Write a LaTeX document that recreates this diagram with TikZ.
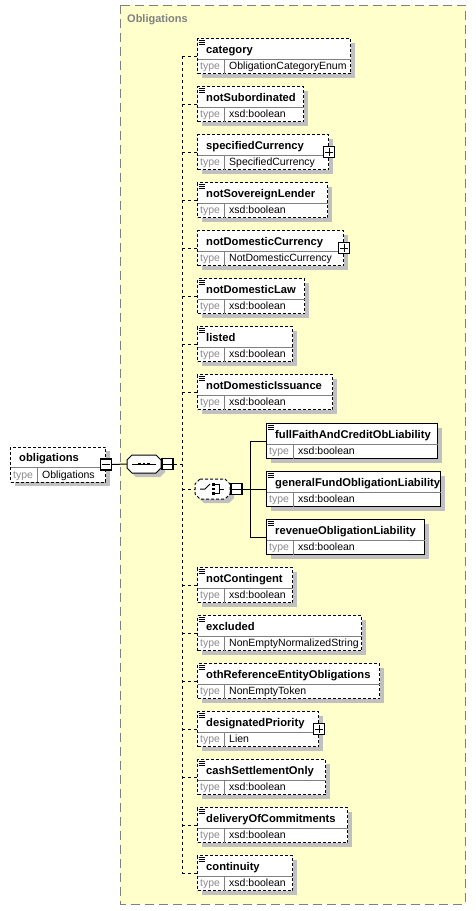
\documentclass[tikz,border=0pt]{standalone}
\usepackage{fontspec}
\setmainfont{Liberation Sans}
\usetikzlibrary{shadows}
\definecolor{grpfill}{RGB}{255,255,204}
\definecolor{grpline}{RGB}{128,128,128}
\definecolor{shadowc}{RGB}{192,192,192}
\definecolor{typegray}{RGB}{140,140,140}
\definecolor{divgray}{RGB}{128,128,128}
\tikzset{
 ebox/.style={draw=black, fill=white, line width=1pt, minimum height=35, inner sep=0,
   drop shadow={shadow xshift=4pt, shadow yshift=-4pt, fill=shadowc, opacity=1}},
 optb/.style={dash pattern=on 3pt off 2pt},
 reqb/.style={solid},
 divc/.style={draw=divgray, line width=1pt},
 namef/.style={anchor=base west, inner sep=0, font=\fontsize{11.2}{13}\selectfont\bfseries},
 typef/.style={anchor=base west, inner sep=0, text=typegray, font=\fontsize{10.5}{12}\selectfont},
 valf/.style={anchor=base west, inner sep=0, font=\fontsize{10.5}{12}\selectfont},
 dline/.style={line width=1pt, dash pattern=on 3pt off 3pt},
 sline/.style={line width=1pt},
 togbox/.style={draw=black, fill=white, line width=1.2pt, minimum size=11, inner sep=0},
}
\newcommand\elem[8]{%
 \node[ebox,#7,minimum width=#4,anchor=north west] (#1) at (#2,#3) {};
 \draw[divc] ([xshift=0.5pt,yshift=-21pt]#1.north west) -- ([xshift=-0.5pt,yshift=-21pt]#1.north east);
 \draw[divc] ([xshift=27pt,yshift=-21pt]#1.north west) -- ([xshift=27pt,yshift=0.5pt]#1.south west);
 \node[namef] (#1-n) at ([xshift=9pt,yshift=-15pt]#1.north west) {#5};
 \node[typef] (#1-k) at ([xshift=3pt,yshift=-31.5pt]#1.north west) {type};
 \node[valf] (#1-v) at ([xshift=32pt,yshift=-31.5pt]#1.north west) {#6};
 \ifnum#8=1
  \foreach \d in {2.5,4.5,6.5}{\draw[line width=0.7pt] ([xshift=1.5pt,yshift=-\d pt]#1.north west) -- ++(6,0);}
 \fi
}
\newcommand\plusbox[2]{\node[togbox] (#1) at (#2) {};
 \draw[line width=1pt] ([xshift=2pt]#1.west) -- ([xshift=-2pt]#1.east);
 \draw[line width=1pt] ([yshift=-2pt]#1.north) -- ([yshift=2pt]#1.south);}
\newcommand\minusbox[2]{\node[togbox] (#1) at (#2) {};
 \draw[line width=1pt] ([xshift=2pt]#1.west) -- ([xshift=-2pt]#1.east);}
\begin{document}
\begin{tikzpicture}[x=1pt,y=-1pt]
\useasboundingbox (0,0) rectangle (475,911);
\fill[white] (0,0) rectangle (475,911);
% group box
\fill[grpfill] (120,5) rectangle (465,904);
\draw[grpline, line width=1pt, dash pattern=on 9pt off 5pt] (120,5) rectangle (465,904);
\node[anchor=base west, inner sep=0, text=grpline, font=\fontsize{11}{13}\selectfont\bfseries] (title) at (127,22) {Obligations};

% root
\elem{root}{10}{446.5}{95}{obligations}{Obligations}{optb}{0}

% sequence compositor
\fill[shadowc] (136,459)--(160,459)--(165,464)--(165,472)--(160,477)--(136,477)--(131,472)--(131,464)--cycle;
\draw[fill=white, line width=1pt] (132,455)--(156,455)--(161,460)--(161,468)--(156,473)--(132,473)--(127,468)--(127,460)--cycle;
\node[inner sep=0, minimum width=34, minimum height=18] (seq) at (144,464) {};
\draw[line width=0.8pt] (132,464) -- (156,464);
\foreach \x in {139.5,144,148.5}{\fill (\x-1.2,462.6) rectangle (\x+1.2,465.4);}

% choice compositor
\fill[shadowc] (204,483)--(229,483)--(234,488)--(234,498)--(229,503)--(204,503)--(199,498)--(199,488)--cycle;
\draw[fill=white, line width=1pt, dash pattern=on 3pt off 2pt] (200,479)--(225,479)--(230,484)--(230,494)--(225,499)--(200,499)--(195,494)--(195,484)--cycle;
\node[inner sep=0, minimum width=35, minimum height=20] (ch) at (212.5,489) {};
\draw[line width=1pt] (200,489) -- (205,489) -- (210,484);
\foreach \y in {484.5,489,493.5}{\fill (212,\y-1.3) rectangle (214.6,\y+1.3);}
\draw[line width=1pt] (215,484.5) -- (219,484.5) -- (219,493.5) -- (215,493.5);
\draw[line width=1pt] (219,489) -- (224,489);

% sequence children
\elem{cat}{197}{38}{153}{category}{ObligationCategoryEnum}{optb}{1}
\elem{nsub}{197}{86}{106}{notSubordinated}{xsd:boolean}{optb}{1}
\elem{spec}{197}{134}{131}{specifiedCurrency}{SpecifiedCurrency}{optb}{0}
\elem{nsov}{197}{182}{130}{notSovereignLender}{xsd:boolean}{optb}{1}
\elem{ndc}{197}{230}{146}{notDomesticCurrency}{NotDomesticCurrency}{optb}{0}
\elem{ndl}{197}{278}{107}{notDomesticLaw}{xsd:boolean}{optb}{1}
\elem{lst}{197}{326}{95}{listed}{xsd:boolean}{optb}{1}
\elem{ndi}{197}{374}{135}{notDomesticIssuance}{xsd:boolean}{optb}{1}
\elem{ncont}{197}{567}{95}{notContingent}{xsd:boolean}{optb}{1}
\elem{excl}{197}{615}{164}{excluded}{NonEmptyNormalizedString}{optb}{1}
\elem{oth}{197}{663}{182}{othReferenceEntityObligations}{NonEmptyToken}{optb}{1}
\elem{dpri}{197}{711}{121}{designatedPriority}{Lien}{optb}{1}
\elem{cash}{197}{759}{128}{cashSettlementOnly}{xsd:boolean}{optb}{1}
\elem{deliv}{197}{807}{150}{deliveryOfCommitments}{xsd:boolean}{optb}{1}
\elem{cont}{197}{855}{95}{continuity}{xsd:boolean}{optb}{1}

% choice children
\elem{full}{266}{423}{171}{fullFaithAndCreditObLiability}{xsd:boolean}{reqb}{1}
\elem{gen}{266}{471}{174}{generalFundObligationLiability}{xsd:boolean}{reqb}{1}
\elem{rev}{266}{519}{158}{revenueObligationLiability}{xsd:boolean}{reqb}{1}

% toggles
\minusbox{rootm}{root.east}
\minusbox{seqm}{167.5,464}
\minusbox{chm}{236.5,489}
\plusbox{specp}{spec.east}
\plusbox{ndcp}{ndc.east}
\plusbox{dprip}{dpri.east}

% connectors
\coordinate (spine) at (182,0);
\coordinate (cspine) at (250,0);
\draw[sline] (rootm.east) -- (seq.west);
\draw[dline] (seqm.east) -- (spine |- seqm.east);
\draw[dline] (spine |- cat.west) -- (spine |- cont.west);
\foreach \n in {cat,nsub,spec,nsov,ndc,ndl,lst,ndi,ncont,excl,oth,dpri,cash,deliv,cont}{
  \draw[dline] (spine |- \n.west) -- (\n.west);}
\draw[dline] (spine |- ch.west) -- (ch.west);
\draw[sline] (chm.east) -- (cspine |- chm.east);
\draw[sline] (cspine |- full.west) -- (cspine |- rev.west);
\foreach \n in {full,gen,rev}{\draw[sline] (cspine |- \n.west) -- (\n.west);}
\end{tikzpicture}
\end{document}
